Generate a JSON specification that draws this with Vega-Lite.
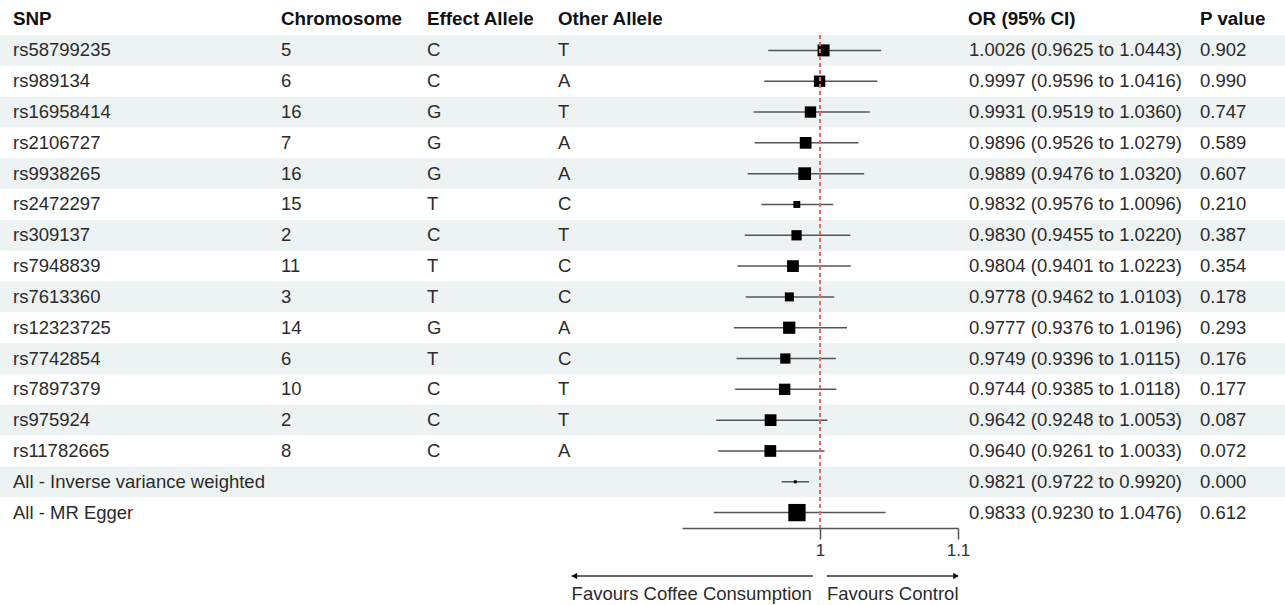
{
  "$schema": "https://vega.github.io/schema/vega-lite/v6.json",
  "padding": {"top": 9, "left": 0, "right": 0, "bottom": 0},
  "background": "white",
  "config": {
    "view": {"stroke": null},
    "font": "Liberation Sans",
    "text": {"fontSize": 18.5, "color": "#2b2b2b"},
    "axis": {"labelFontSize": 18.8}
  },
  "spacing": 8,
  "bounds": "full",
  "vconcat": [
    {
      "data": {
        "values": [
          {"i": 1, "snp": "rs58799235", "chr": "5", "ea": "C", "oa": "T", "or": 1.0026, "lo": 0.9625, "hi": 1.0443, "weight": 48, "ortext": "1.0026 (0.9625 to 1.0443)", "p": 0.902},
          {"i": 2, "snp": "rs989134", "chr": "6", "ea": "C", "oa": "A", "or": 0.9997, "lo": 0.9596, "hi": 1.0416, "weight": 43, "ortext": "0.9997 (0.9596 to 1.0416)", "p": 0.990},
          {"i": 3, "snp": "rs16958414", "chr": "16", "ea": "G", "oa": "T", "or": 0.9931, "lo": 0.9519, "hi": 1.0360, "weight": 43, "ortext": "0.9931 (0.9519 to 1.0360)", "p": 0.747},
          {"i": 4, "snp": "rs2106727", "chr": "7", "ea": "G", "oa": "A", "or": 0.9896, "lo": 0.9526, "hi": 1.0279, "weight": 46, "ortext": "0.9896 (0.9526 to 1.0279)", "p": 0.589},
          {"i": 5, "snp": "rs9938265", "chr": "16", "ea": "G", "oa": "A", "or": 0.9889, "lo": 0.9476, "hi": 1.0320, "weight": 54, "ortext": "0.9889 (0.9476 to 1.0320)", "p": 0.607},
          {"i": 6, "snp": "rs2472297", "chr": "15", "ea": "T", "oa": "C", "or": 0.9832, "lo": 0.9576, "hi": 1.0096, "weight": 16, "ortext": "0.9832 (0.9576 to 1.0096)", "p": 0.210},
          {"i": 7, "snp": "rs309137", "chr": "2", "ea": "C", "oa": "T", "or": 0.9830, "lo": 0.9455, "hi": 1.0220, "weight": 35, "ortext": "0.9830 (0.9455 to 1.0220)", "p": 0.387},
          {"i": 8, "snp": "rs7948839", "chr": "11", "ea": "T", "oa": "C", "or": 0.9804, "lo": 0.9401, "hi": 1.0223, "weight": 46, "ortext": "0.9804 (0.9401 to 1.0223)", "p": 0.354},
          {"i": 9, "snp": "rs7613360", "chr": "3", "ea": "T", "oa": "C", "or": 0.9778, "lo": 0.9462, "hi": 1.0103, "weight": 27, "ortext": "0.9778 (0.9462 to 1.0103)", "p": 0.178},
          {"i": 10, "snp": "rs12323725", "chr": "14", "ea": "G", "oa": "A", "or": 0.9777, "lo": 0.9376, "hi": 1.0196, "weight": 50, "ortext": "0.9777 (0.9376 to 1.0196)", "p": 0.293},
          {"i": 11, "snp": "rs7742854", "chr": "6", "ea": "T", "oa": "C", "or": 0.9749, "lo": 0.9396, "hi": 1.0115, "weight": 35, "ortext": "0.9749 (0.9396 to 1.0115)", "p": 0.176},
          {"i": 12, "snp": "rs7897379", "chr": "10", "ea": "C", "oa": "T", "or": 0.9744, "lo": 0.9385, "hi": 1.0118, "weight": 43, "ortext": "0.9744 (0.9385 to 1.0118)", "p": 0.177},
          {"i": 13, "snp": "rs975924", "chr": "2", "ea": "C", "oa": "T", "or": 0.9642, "lo": 0.9248, "hi": 1.0053, "weight": 46, "ortext": "0.9642 (0.9248 to 1.0053)", "p": 0.087},
          {"i": 14, "snp": "rs11782665", "chr": "8", "ea": "C", "oa": "A", "or": 0.9640, "lo": 0.9261, "hi": 1.0033, "weight": 46, "ortext": "0.9640 (0.9261 to 1.0033)", "p": 0.072},
          {"i": 15, "snp": "All - Inverse variance weighted", "chr": "", "ea": "", "oa": "", "or": 0.9821, "lo": 0.9722, "hi": 0.9920, "weight": 3, "ortext": "0.9821 (0.9722 to 0.9920)", "p": 0.000},
          {"i": 16, "snp": "All - MR Egger", "chr": "", "ea": "", "oa": "", "or": 0.9833, "lo": 0.9230, "hi": 1.0476, "weight": 100, "ortext": "0.9833 (0.9230 to 1.0476)", "p": 0.612}
        ]
      },
      "spacing": 0,
      "bounds": "flush",
      "hconcat": [
        {
          "width": 281, "height": 493,
          "layer": [
            {"transform": [{"filter": "datum.i % 2 == 1"}], "mark": {"type": "rect", "color": "#edf2f3"},
             "encoding": {"y": {"field": "i", "type": "ordinal", "scale": {"type": "band", "paddingInner": 0, "paddingOuter": 0}, "axis": null}}},
            {"mark": {"type": "text", "align": "left", "dx": 13},
             "encoding": {
               "x": {"datum": "SNP", "type": "nominal", "bandPosition": 0, "scale": {"type": "band", "paddingInner": 0, "paddingOuter": 0},
                     "axis": {"orient": "top", "domain": false, "ticks": false, "title": null, "labelAngle": 0, "labelAlign": "left", "labelFontWeight": "bold", "labelColor": "#111", "labelPadding": 6.5, "labelOffset": -127.5}},
               "y": {"field": "i", "type": "ordinal", "scale": {"type": "band", "paddingInner": 0, "paddingOuter": 0}, "axis": null},
               "text": {"field": "snp"}}}
          ]
        },
        {
          "width": 146, "height": 493,
          "layer": [
            {"transform": [{"filter": "datum.i % 2 == 1"}], "mark": {"type": "rect", "color": "#edf2f3"},
             "encoding": {"y": {"field": "i", "type": "ordinal", "scale": {"type": "band", "paddingInner": 0, "paddingOuter": 0}, "axis": null}}},
            {"mark": {"type": "text", "align": "left"},
             "encoding": {
               "x": {"datum": "Chromosome", "type": "nominal", "bandPosition": 0, "scale": {"type": "band", "paddingInner": 0, "paddingOuter": 0},
                     "axis": {"orient": "top", "domain": false, "ticks": false, "title": null, "labelAngle": 0, "labelAlign": "left", "labelFontWeight": "bold", "labelColor": "#111", "labelPadding": 6.5, "labelOffset": -73}},
               "y": {"field": "i", "type": "ordinal", "scale": {"type": "band", "paddingInner": 0, "paddingOuter": 0}, "axis": null},
               "text": {"field": "chr"}}}
          ]
        },
        {
          "width": 131, "height": 493,
          "layer": [
            {"transform": [{"filter": "datum.i % 2 == 1"}], "mark": {"type": "rect", "color": "#edf2f3"},
             "encoding": {"y": {"field": "i", "type": "ordinal", "scale": {"type": "band", "paddingInner": 0, "paddingOuter": 0}, "axis": null}}},
            {"mark": {"type": "text", "align": "left"},
             "encoding": {
               "x": {"datum": "Effect Allele", "type": "nominal", "bandPosition": 0, "scale": {"type": "band", "paddingInner": 0, "paddingOuter": 0},
                     "axis": {"orient": "top", "domain": false, "ticks": false, "title": null, "labelAngle": 0, "labelAlign": "left", "labelFontWeight": "bold", "labelColor": "#111", "labelPadding": 6.5, "labelOffset": -65.5}},
               "y": {"field": "i", "type": "ordinal", "scale": {"type": "band", "paddingInner": 0, "paddingOuter": 0}, "axis": null},
               "text": {"field": "ea"}}}
          ]
        },
        {
          "width": 124, "height": 493,
          "layer": [
            {"transform": [{"filter": "datum.i % 2 == 1"}], "mark": {"type": "rect", "color": "#edf2f3"},
             "encoding": {"y": {"field": "i", "type": "ordinal", "scale": {"type": "band", "paddingInner": 0, "paddingOuter": 0}, "axis": null}}},
            {"mark": {"type": "text", "align": "left"},
             "encoding": {
               "x": {"datum": "Other Allele", "type": "nominal", "bandPosition": 0, "scale": {"type": "band", "paddingInner": 0, "paddingOuter": 0},
                     "axis": {"orient": "top", "domain": false, "ticks": false, "title": null, "labelAngle": 0, "labelAlign": "left", "labelFontWeight": "bold", "labelColor": "#111", "labelPadding": 6.5, "labelOffset": -62}},
               "y": {"field": "i", "type": "ordinal", "scale": {"type": "band", "paddingInner": 0, "paddingOuter": 0}, "axis": null},
               "text": {"field": "oa"}}}
          ]
        },
        {
          "width": 276, "height": 493,
          "layer": [
            {"transform": [{"filter": "datum.i % 2 == 1"}], "mark": {"type": "rect", "color": "#edf2f3"},
             "encoding": {"y": {"field": "i", "type": "ordinal", "scale": {"type": "band", "paddingInner": 0, "paddingOuter": 0}, "axis": null}}},
            {"mark": {"type": "rule", "color": "#555555", "strokeWidth": 1.5},
             "encoding": {
               "x": {"field": "lo", "type": "quantitative", "scale": {"domain": [0.9, 1.1], "nice": false, "zero": false},
                     "axis": {"orient": "bottom", "values": [1, 1.1], "format": "~g", "title": null, "grid": false, "domainColor": "#555555", "domainWidth": 1.5, "tickColor": "#555555", "tickWidth": 1.5, "tickSize": 11, "labelFontSize": 17, "labelColor": "#333333", "labelPadding": 3, "labelFlush": false}},
               "x2": {"field": "hi"},
               "y": {"field": "i", "type": "ordinal", "scale": {"type": "band", "paddingInner": 0, "paddingOuter": 0}, "axis": null}}},
            {"mark": {"type": "point", "shape": "square", "filled": true, "color": "#000000", "opacity": 1},
             "encoding": {
               "x": {"field": "or", "type": "quantitative"},
               "y": {"field": "i", "type": "ordinal", "scale": {"type": "band", "paddingInner": 0, "paddingOuter": 0}, "axis": null},
               "size": {"field": "weight", "type": "quantitative", "scale": {"domain": [0, 100], "range": [0, 300]}, "legend": null}}},
            {"mark": {"type": "rule", "color": "#f06666", "strokeDash": [4, 3], "strokeWidth": 1.5},
             "encoding": {"x": {"datum": 1, "type": "quantitative"}}}
          ]
        },
        {
          "width": 242, "height": 493,
          "layer": [
            {"transform": [{"filter": "datum.i % 2 == 1"}], "mark": {"type": "rect", "color": "#edf2f3"},
             "encoding": {"y": {"field": "i", "type": "ordinal", "scale": {"type": "band", "paddingInner": 0, "paddingOuter": 0}, "axis": null}}},
            {"mark": {"type": "text", "align": "left", "dx": 11},
             "encoding": {
               "x": {"datum": "OR (95% CI)", "type": "nominal", "bandPosition": 0, "scale": {"type": "band", "paddingInner": 0, "paddingOuter": 0},
                     "axis": {"orient": "top", "domain": false, "ticks": false, "title": null, "labelAngle": 0, "labelAlign": "left", "labelFontWeight": "bold", "labelColor": "#111", "labelPadding": 6.5, "labelOffset": -111}},
               "y": {"field": "i", "type": "ordinal", "scale": {"type": "band", "paddingInner": 0, "paddingOuter": 0}, "axis": null},
               "text": {"field": "ortext"}}}
          ]
        },
        {
          "width": 85, "height": 493,
          "layer": [
            {"transform": [{"filter": "datum.i % 2 == 1"}], "mark": {"type": "rect", "color": "#edf2f3"},
             "encoding": {"y": {"field": "i", "type": "ordinal", "scale": {"type": "band", "paddingInner": 0, "paddingOuter": 0}, "axis": null}}},
            {"mark": {"type": "text", "align": "left"},
             "encoding": {
               "x": {"datum": "P value", "type": "nominal", "bandPosition": 0, "scale": {"type": "band", "paddingInner": 0, "paddingOuter": 0},
                     "axis": {"orient": "top", "domain": false, "ticks": false, "title": null, "labelAngle": 0, "labelAlign": "left", "labelFontWeight": "bold", "labelColor": "#111", "labelPadding": 6.5, "labelOffset": -42.5}},
               "y": {"field": "i", "type": "ordinal", "scale": {"type": "band", "paddingInner": 0, "paddingOuter": 0}, "axis": null},
               "text": {"field": "p", "format": ".3f"}}}
          ]
        }
      ]
    },
    {
      "width": 1285, "height": 20,
      "data": {
        "values": [
          {"lab": "Favours Coffee Consumption", "lo": 0.82, "hi": 0.9949, "tip": 0.822, "dir": "left"},
          {"lab": "Favours Control", "lo": 1.005, "hi": 1.1, "tip": 1.0985, "dir": "right"}
        ]
      },
      "layer": [
        {"mark": {"type": "rule", "color": "#333333", "strokeWidth": 1.5},
         "encoding": {
           "x": {"field": "lo", "type": "quantitative", "scale": {"domain": [0.405797, 1.336957], "nice": false, "zero": false}, "axis": null},
           "x2": {"field": "hi"}}},
        {"mark": {"type": "point", "filled": true, "color": "#111111", "opacity": 1, "size": 40},
         "encoding": {
           "x": {"field": "tip", "type": "quantitative"},
           "shape": {"field": "dir", "type": "nominal", "scale": {"domain": ["left", "right"], "range": ["triangle-left", "triangle-right"]}, "legend": null}}},
        {"mark": {"type": "text", "align": "left", "baseline": "top", "dy": 9, "fontSize": 18.5, "color": "#2b2b2b"},
         "encoding": {
           "x": {"field": "lo", "type": "quantitative"},
           "text": {"field": "lab"}}}
      ]
    }
  ]
}
